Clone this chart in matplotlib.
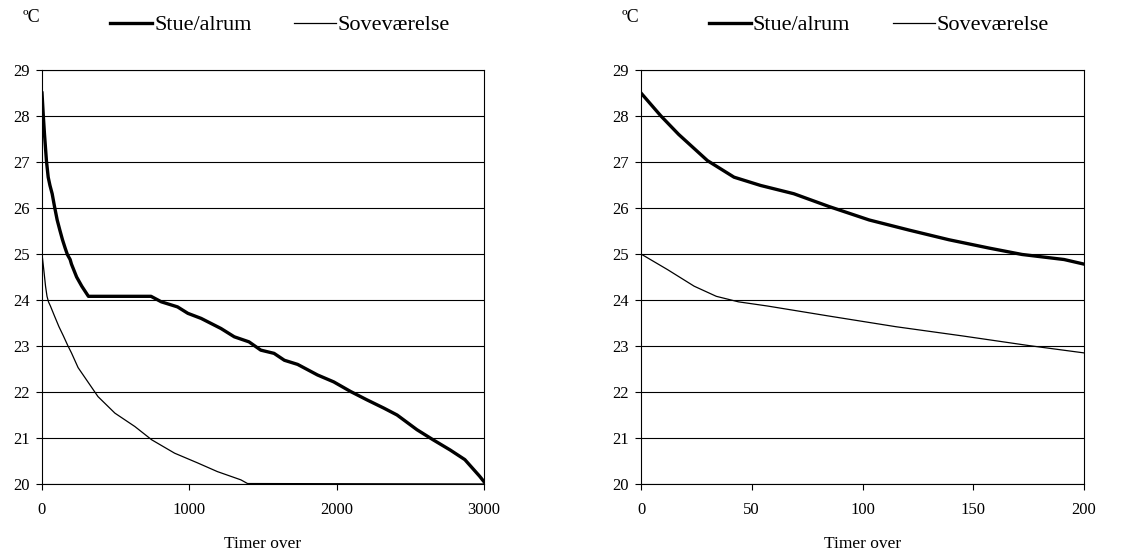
import numpy as np
import matplotlib
matplotlib.use("Agg")
import matplotlib.pyplot as plt

plt.rcParams['font.family'] = ['Liberation Serif', 'DejaVu Serif']

# timer (hours) and temperature (degC)
stue_t = [0, 9, 17, 30, 42, 54, 69, 85, 103, 121, 139, 157, 172, 191, 200,
          235, 270, 315, 740, 810, 920, 990, 1080, 1215, 1305, 1405, 1485,
          1575, 1645, 1735, 1870, 1980, 2095, 2205, 2320, 2410, 2545, 2655,
          2770, 2870, 2970, 3000]
stue_y = [28.5, 28.0, 27.6, 27.03, 26.67, 26.49, 26.31, 26.03, 25.74, 25.52,
          25.31, 25.13, 24.99, 24.88, 24.78, 24.5, 24.3, 24.08, 24.08, 23.96,
          23.85, 23.71, 23.60, 23.38, 23.20, 23.09, 22.91, 22.84, 22.69, 22.60,
          22.37, 22.22, 22.01, 21.83, 21.65, 21.50, 21.18, 20.96, 20.74, 20.53,
          20.17, 20.05]

sove_t = [0, 12, 24, 34, 44, 57, 85, 115, 145, 175, 200, 245, 380, 495, 630,
          745, 900, 1055, 1190, 1350, 1395, 3000]
sove_y = [25.0, 24.66, 24.30, 24.08, 23.96, 23.87, 23.65, 23.42, 23.22, 23.01,
          22.85, 22.53, 21.90, 21.54, 21.25, 20.96, 20.67, 20.46, 20.27, 20.09,
          20.01, 20.0]

labels = ['Stue/alrum', 'Soveværelse']
yticks = list(range(20, 30))
panels = [
    dict(xlim=(0, 3000), xticks=[0, 1000, 2000, 3000]),
    dict(xlim=(0, 200), xticks=[0, 50, 100, 150, 200]),
]

W, H = 1144, 558
fig = plt.figure(figsize=(W / 100, H / 100), dpi=100)
axes_px = [(42, 484), (641, 1084)]   # left/right edges in pixels
top_px, bot_px = 70, 484

for p, (x0, x1) in zip(panels, axes_px):
    ax = fig.add_axes([x0 / W, 1 - bot_px / H, (x1 - x0) / W, (bot_px - top_px) / H])
    ax.plot(stue_t, stue_y, color='black', lw=2.4, label=labels[0],
            solid_joinstyle='round')
    ax.plot(sove_t, sove_y, color='black', lw=0.9, label=labels[1])
    ax.set_xlim(*p['xlim'])
    ax.set_ylim(20, 29)
    ax.set_xticks(p['xticks'])
    ax.set_yticks(yticks)
    ax.yaxis.grid(True, color='black', lw=0.8)
    ax.set_axisbelow(True)
    for s in ax.spines.values():
        s.set_color('black')
        s.set_linewidth(0.8)
    ax.tick_params(direction='out', length=4, width=0.8, labelsize=12)
    ax.tick_params(axis='x', pad=9)
    ax.tick_params(axis='y', pad=5)
    ax.set_xlabel('Timer over', fontsize=12.5, labelpad=13)

    ax.legend(loc='center left', ncol=2, frameon=False, fontsize=16,
              handlelength=1.9, handletextpad=0.08, columnspacing=1.9,
              borderaxespad=0, borderpad=0,
              bbox_to_anchor=((x0 + 68) / W, 1 - 25 / H),
              bbox_transform=fig.transFigure)
    fig.text((x0 - 19) / W, 1 - 18 / H, 'ºC', fontsize=13, ha='left', va='center')

fig.savefig('out.png', dpi=100)
